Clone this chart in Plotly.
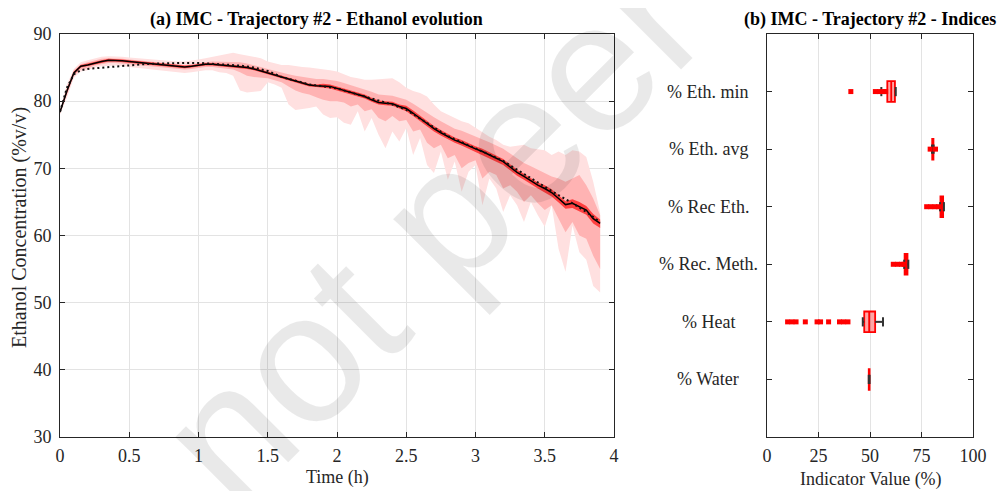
import plotly.graph_objects as go

# ---------------- data: left panel ----------------
time_h = [0.00, 0.05, 0.10, 0.15, 0.20, 0.25, 0.30, 0.35, 0.40, 0.45,
          0.50, 0.55, 0.60, 0.65, 0.70, 0.75, 0.80, 0.85, 0.90, 0.95,
          1.00, 1.05, 1.10, 1.15, 1.20, 1.25, 1.30, 1.35, 1.40, 1.45,
          1.50, 1.55, 1.60, 1.65, 1.70, 1.75, 1.80, 1.85, 1.90, 1.95,
          2.00, 2.05, 2.10, 2.15, 2.20, 2.25, 2.30, 2.35, 2.40, 2.45,
          2.50, 2.55, 2.60, 2.65, 2.70, 2.75, 2.80, 2.85, 2.90, 2.95,
          3.00, 3.05, 3.10, 3.15, 3.20, 3.25, 3.30, 3.35, 3.40, 3.45,
          3.50, 3.55, 3.60, 3.65, 3.70, 3.75, 3.80, 3.85, 3.90]

median_eth = [78.4, 81.5, 84.2, 85.2, 85.4, 85.7, 85.9, 86.1, 86.1, 86.0,
              85.9, 85.8, 85.7, 85.6, 85.5, 85.4, 85.3, 85.2, 85.1, 85.2,
              85.4, 85.5, 85.5, 85.4, 85.4, 85.3, 85.2, 85.0, 84.8, 84.5,
              84.1, 83.8, 83.5, 83.2, 82.9, 82.6, 82.4, 82.3, 82.3, 82.2,
              81.9, 81.6, 81.3, 81.0, 80.7, 80.2, 79.8, 79.7, 79.6, 79.2,
              78.9, 78.2, 77.4, 76.6, 75.9, 75.3, 74.7, 74.2, 73.8, 73.3,
              72.9, 72.5, 72.0, 71.5, 71.0, 70.2, 69.4, 68.8, 68.1, 67.5,
              67.0, 66.4, 65.5, 64.6, 64.8, 64.3, 63.8, 62.5, 61.8]

outer_low = [78.0, 80.5, 83.5, 84.4, 84.6, 85.0, 85.2, 85.3, 85.3, 85.2,
             85.1, 85.0, 84.9, 84.8, 84.7, 84.6, 84.4, 84.3, 84.2, 84.3,
             84.5, 84.6, 84.6, 84.3, 84.2, 83.8, 81.6, 81.3, 81.4, 81.5,
             82.8, 82.5, 82.0, 79.5, 78.7, 78.8, 79.0, 79.2, 78.0, 77.5,
             77.6, 76.8, 76.5, 78.5, 75.5, 77.5, 75.0, 73.0, 75.5, 74.0,
             76.0, 72.0, 74.5, 70.5, 69.3, 72.5, 68.3, 71.0, 66.5, 69.5,
             70.5, 64.5, 68.5, 67.0, 63.5, 66.0, 64.5, 62.0, 65.0, 63.0,
             61.3, 64.5, 58.0, 54.6, 61.5, 57.5, 56.4, 52.5, 51.5]
outer_high = [78.8, 82.5, 84.8, 85.8, 86.1, 86.4, 86.6, 86.7, 86.7, 86.6,
              86.5, 86.4, 86.3, 86.2, 86.1, 86.0, 85.9, 85.9, 85.9, 86.0,
              86.2, 86.4, 86.6, 86.8, 87.0, 87.2, 87.0, 86.8, 86.6, 86.4,
              85.9, 85.6, 85.4, 85.4, 85.2, 85.1, 85.0, 84.9, 84.8, 84.6,
              84.4, 84.0, 83.6, 83.4, 83.2, 83.2, 83.3, 83.4, 83.4, 82.8,
              82.0, 81.5, 81.2, 80.7, 79.5, 78.5, 78.0, 77.5, 77.0, 76.7,
              76.0, 75.3, 74.7, 74.2, 73.5, 73.2, 73.3, 73.5, 73.0, 72.8,
              72.7, 72.0, 72.5, 72.0, 72.7, 72.5, 71.7, 68.0, 63.4]
mid_low = [78.2, 81.0, 83.8, 84.7, 84.9, 85.3, 85.5, 85.7, 85.7, 85.6,
           85.5, 85.4, 85.3, 85.2, 85.1, 85.0, 84.9, 84.8, 84.7, 84.8,
           85.0, 85.1, 85.1, 85.0, 84.9, 84.7, 84.3, 83.8, 83.6, 83.5,
           83.4, 83.1, 82.8, 82.2, 81.6, 81.2, 81.0, 80.6, 80.2, 80.0,
           80.0, 79.8, 79.2, 79.5, 78.5, 78.8, 77.5, 77.0, 77.8, 77.0,
           77.2, 75.5, 75.8, 73.8, 73.0, 73.5, 71.5, 72.0, 70.0, 70.8,
           71.2, 68.5, 69.5, 69.0, 67.0, 67.5, 66.5, 65.0, 66.0, 64.8,
           63.8, 64.5, 62.5, 60.5, 62.0, 60.0, 59.5, 57.0, 55.0]
mid_high = [78.6, 82.0, 84.6, 85.5, 85.8, 86.1, 86.3, 86.4, 86.4, 86.3,
            86.2, 86.1, 86.0, 85.9, 85.8, 85.7, 85.6, 85.5, 85.4, 85.5,
            85.7, 85.8, 85.9, 85.9, 85.9, 85.9, 85.8, 85.6, 85.4, 85.1,
            84.8, 84.5, 84.2, 84.0, 83.8, 83.6, 83.4, 83.3, 83.3, 83.2,
            83.0, 82.7, 82.4, 82.1, 81.8, 81.4, 81.0, 80.9, 80.8, 80.5,
            80.2, 79.6, 78.9, 78.2, 77.6, 77.0, 76.5, 75.9, 75.6, 75.2,
            74.8, 74.4, 73.9, 73.4, 72.9, 72.2, 71.5, 70.8, 70.3, 69.8,
            69.3, 68.8, 68.5, 68.0, 68.5, 69.0, 67.5, 65.5, 63.0]
inner_low = [78.3, 81.2, 84.0, 85.0, 85.2, 85.5, 85.7, 85.9, 85.9, 85.8,
             85.7, 85.6, 85.5, 85.4, 85.3, 85.2, 85.1, 85.0, 84.9, 85.0,
             85.2, 85.3, 85.3, 85.2, 85.2, 85.1, 85.0, 84.8, 84.6, 84.3,
             83.9, 83.6, 83.3, 83.0, 82.7, 82.4, 82.2, 82.1, 82.0, 81.9,
             81.6, 81.3, 81.0, 80.7, 80.4, 79.9, 79.5, 79.4, 79.3, 78.9,
             78.5, 77.8, 77.0, 76.2, 75.5, 74.9, 74.3, 73.8, 73.4, 72.9,
             72.5, 72.0, 71.5, 71.0, 70.5, 69.7, 68.9, 68.3, 67.6, 67.0,
             66.4, 65.8, 64.9, 64.0, 64.1, 63.6, 63.1, 61.8, 61.1]
inner_high = [78.5, 81.8, 84.4, 85.4, 85.6, 85.9, 86.1, 86.3, 86.3, 86.2,
              86.1, 86.0, 85.9, 85.8, 85.7, 85.6, 85.5, 85.4, 85.3, 85.4,
              85.6, 85.7, 85.7, 85.6, 85.6, 85.5, 85.4, 85.2, 85.0, 84.7,
              84.3, 84.0, 83.7, 83.4, 83.1, 82.8, 82.6, 82.5, 82.6, 82.5,
              82.2, 81.9, 81.6, 81.3, 81.0, 80.5, 80.1, 80.0, 79.9, 79.5,
              79.3, 78.6, 77.8, 77.0, 76.3, 75.7, 75.1, 74.6, 74.2, 73.7,
              73.3, 72.9, 72.4, 71.9, 71.4, 70.6, 69.8, 69.2, 68.5, 67.9,
              67.5, 66.9, 66.0, 65.1, 65.4, 65.0, 64.4, 63.2, 62.4]

ref_time = [0.00, 0.05, 0.10, 0.15, 0.20, 0.30, 0.40, 0.50, 0.60, 0.70,
            0.80, 0.90, 1.00, 1.10, 1.20, 1.30, 1.40, 1.50, 1.60, 1.70,
            1.80, 1.90, 2.00, 2.10, 2.20, 2.30, 2.40, 2.50, 2.60, 2.70,
            2.80, 2.90, 3.00, 3.10, 3.20, 3.30, 3.40, 3.50, 3.60, 3.70,
            3.80, 3.90]
ref_eth = [78.4, 82.0, 84.0, 84.6, 84.8, 85.0, 85.2, 85.3, 85.5, 85.6,
           85.7, 85.7, 85.7, 85.6, 85.5, 85.3, 85.0, 84.5, 83.6, 83.0,
           82.5, 82.2, 81.9, 81.3, 80.7, 80.0, 79.5, 78.7, 77.4, 76.0,
           74.8, 73.9, 73.0, 72.1, 71.1, 69.8, 68.5, 67.2, 66.0, 64.8,
           63.5, 62.0]

# ---------------- data: right panel ----------------
indices = ["% Eth. min", "% Eth. avg", "% Rec Eth.", "% Rec. Meth.", "% Heat", "% Water"]
positions = [1, 2, 3, 4, 5, 6]
q1_vals = [58.4, 80.2, 84.2, 66.8, 47.2, 49.4]
med_vals = [60.3, 80.5, 85.0, 67.6, 49.6, 49.6]
q3_vals = [62.1, 80.8, 85.5, 68.2, 52.5, 49.8]
lowfence_vals = [55.5, 80.1, 84.0, 66.6, 46.5, 49.4]
upfence_vals = [62.5, 80.9, 85.9, 68.6, 56.3, 49.8]
outliers = [
    [40.7, 52.6, 54.6, 56.6, 57.6],
    [79.2, 81.8],
    [77.5, 79.5, 81.5, 83.3],
    [61.3, 63.3, 65.3, 66.6],
    [10.0, 12.1, 14.1, 18.6, 24.3, 26.0, 29.9, 35.2, 37.2, 39.3],
    [],
]

# ---------------- figure ----------------
W, H = 1008, 491
OFF = 8  # page body margin in the browser
SERIF = "Liberation Serif, Times New Roman, serif"
AX = "#262626"
GRID = "#e3e3e3"

def px(x):
    return (x - OFF) / W

def py(y):
    return 1 - (y - OFF) / H

fig = go.Figure()

bands = [
    (outer_low, outer_high, "#ffe0e0"),
    (mid_low, mid_high, "#ffb3b3"),
    (inner_low, inner_high, "#ff4040"),
]
for lo, hi, col in bands:
    fig.add_trace(go.Scatter(x=time_h, y=lo, mode="lines", line=dict(width=0, color=col),
                             showlegend=False, hoverinfo="skip", xaxis="x", yaxis="y"))
    fig.add_trace(go.Scatter(x=time_h, y=hi, mode="lines", line=dict(width=0, color=col),
                             fill="tonexty", fillcolor=col, showlegend=False,
                             hoverinfo="skip", xaxis="x", yaxis="y"))

fig.add_trace(go.Scatter(x=time_h, y=median_eth, mode="lines",
                         line=dict(color="#000000", width=1.5), showlegend=False,
                         xaxis="x", yaxis="y"))
fig.add_trace(go.Scatter(x=ref_time, y=ref_eth, mode="lines",
                         line=dict(color="#111111", width=2, dash="2px,3px"),
                         showlegend=False, xaxis="x", yaxis="y"))

# right panel: whiskers (black), boxes (red), outliers (red)
cap = 0.08
for i in range(len(indices)):
    p = positions[i]
    wx = [lowfence_vals[i], q1_vals[i], None, q3_vals[i], upfence_vals[i], None,
          lowfence_vals[i], lowfence_vals[i], None, upfence_vals[i], upfence_vals[i]]
    wy = [p, p, None, p, p, None, p - cap, p + cap, None, p - cap, p + cap]
    fig.add_trace(go.Scatter(x=wx, y=wy, mode="lines", line=dict(color="#333333", width=2),
                             showlegend=False, hoverinfo="skip", xaxis="x2", yaxis="y2"))
    fig.add_trace(go.Box(y=[p], q1=[q1_vals[i]], median=[med_vals[i]], q3=[q3_vals[i]],
                         lowerfence=[q1_vals[i]], upperfence=[q3_vals[i]],
                         orientation="h", width=0.36, whiskerwidth=0,
                         line=dict(color="#ff0000", width=1.8),
                         fillcolor="rgba(255,0,0,0.35)", boxpoints=False,
                         showlegend=False, xaxis="x2", yaxis="y2"))
    if outliers[i]:
        fig.add_trace(go.Scatter(x=outliers[i], y=[p] * len(outliers[i]), mode="markers",
                                 marker=dict(symbol="square", size=5, color="#ff0000",
                                             line=dict(width=0)),
                                 showlegend=False, xaxis="x2", yaxis="y2"))

axis_common = dict(showline=True, linecolor=AX, linewidth=1, mirror="ticks",
                   ticks="inside", ticklen=5, tickcolor=AX, zeroline=False,
                   automargin=False,
                   tickfont=dict(family=SERIF, size=18, color=AX))

fig.update_layout(
    width=W, height=H,
    margin=dict(l=0, r=0, t=0, b=0, pad=0, autoexpand=False),
    paper_bgcolor="white", plot_bgcolor="white",
    showlegend=False,
    xaxis=dict(domain=[px(60), px(614)], range=[0, 4], tickvals=[0, 0.5, 1, 1.5, 2, 2.5, 3, 3.5, 4],
               ticktext=["0", "0.5", "1", "1.5", "2", "2.5", "3", "3.5", "4"],
               showgrid=True, gridcolor=GRID, gridwidth=1, anchor="y",
               ticklabelstandoff=2, **axis_common),
    yaxis=dict(domain=[py(437), py(34)], range=[30, 90], tickvals=[30, 40, 50, 60, 70, 80, 90],
               showgrid=True, gridcolor=GRID, gridwidth=1, anchor="x",
               ticklabelstandoff=4, **axis_common),
    xaxis2=dict(domain=[px(767), px(973)], range=[0, 100], tickvals=[0, 25, 50, 75, 100],
                showgrid=True, gridcolor=GRID, gridwidth=1, anchor="y2",
                ticklabelstandoff=2, **axis_common),
    yaxis2=dict(domain=[py(437), py(34)], range=[7, 0], tickvals=positions,
                showticklabels=False, showgrid=False, anchor="x2", **axis_common),
)

# titles
fig.add_annotation(text="<b>(a) IMC - Trajectory #2 - Ethanol evolution</b>", x=px(316), y=py(20),
                   xref="paper", yref="paper", showarrow=False, xanchor="center", yanchor="middle",
                   font=dict(family=SERIF, size=18, color="#000000"))
fig.add_annotation(text="<b>(b) IMC - Trajectory #2 - Indices</b>", x=px(870), y=py(20),
                   xref="paper", yref="paper", showarrow=False, xanchor="center", yanchor="middle",
                   font=dict(family=SERIF, size=18, color="#000000"))
# axis titles
fig.add_annotation(text="Time (h)", x=px(337), y=py(477), xref="paper", yref="paper",
                   showarrow=False, xanchor="center", yanchor="middle",
                   font=dict(family=SERIF, size=18, color=AX))
fig.add_annotation(text="Indicator Value (%)", x=px(871), y=py(479), xref="paper", yref="paper",
                   showarrow=False, xanchor="center", yanchor="middle",
                   font=dict(family=SERIF, size=18, color=AX))
fig.add_annotation(text="Ethanol Concentration (%v/v)", x=px(19), y=py(228), xref="paper",
                   yref="paper", showarrow=False, textangle=-90, xanchor="center",
                   yanchor="middle", font=dict(family=SERIF, size=20, color=AX))
# category labels (centred, as in the reference)
for lab, p in zip(indices, positions):
    fig.add_annotation(text=lab, x=px(708), y=p, xref="paper", yref="y2", showarrow=False,
                       xanchor="center", yanchor="middle",
                       font=dict(family=SERIF, size=18, color=AX))

# watermark
fig.add_annotation(text="not peer", x=px(430), y=py(230), xref="paper", yref="paper",
                   showarrow=False, textangle=-45, xanchor="center", yanchor="middle",
                   font=dict(family="Liberation Sans, Arial, sans-serif", size=185,
                             color="rgba(0,0,0,0.085)"))

fig.write_html("out.html")
